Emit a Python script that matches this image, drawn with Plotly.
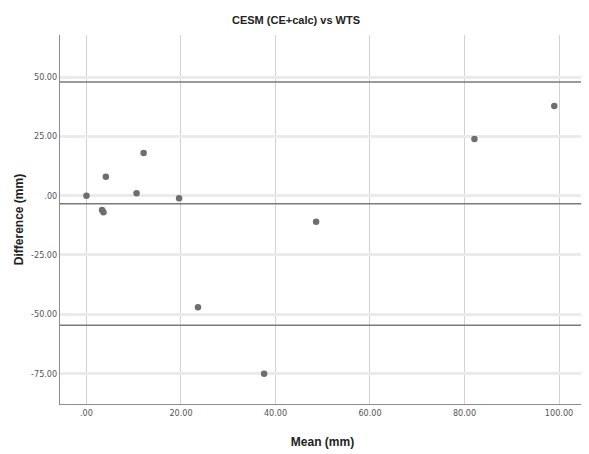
import plotly.graph_objects as go

mean_mm = [0.0, 3.3, 3.6, 4.1, 10.6, 12.1, 19.6, 23.6, 37.6, 48.6, 82.1, 99.0]
diff_mm = [0.0, -6.0, -7.0, 8.0, 1.0, 18.0, -1.1, -47.0, -75.0, -11.0, 23.9, 37.8]
ref_lines = [47.9, -3.4, -54.6]
x_ticks = [0, 20, 40, 60, 80, 100]
x_tick_labels = [".00", "20.00", "40.00", "60.00", "80.00", "100.00"]
y_ticks = [50, 25, 0, -25, -50, -75]
y_tick_labels = ["50.00", "25.00", ".00", "-25.00", "-50.00", "-75.00"]

tick_font = dict(family="Liberation Sans Narrow, DejaVu Sans Condensed, Arial", size=9, color="#555555")

fig = go.Figure()
fig.add_trace(go.Scatter(
    x=mean_mm, y=diff_mm, mode="markers",
    marker=dict(color="#6e6e6e", size=6.5),
    showlegend=False, hoverinfo="x+y",
))

for v in ref_lines:
    fig.add_shape(type="line", xref="paper", x0=0, x1=1, yref="y", y0=v, y1=v,
                  line=dict(color="#7a7a7a", width=1.5), layer="above")

fig.update_layout(
    width=589, height=454,
    margin=dict(l=52, r=12, t=27, b=58, autoexpand=False),
    paper_bgcolor="white", plot_bgcolor="white",
    title=dict(text="<b>CESM (CE+calc) vs WTS</b>", x=0.489, xanchor="center", y=0.974, yanchor="middle",
               automargin=False,
               font=dict(family="Liberation Sans Narrow, Liberation Sans, Arial", size=11, color="#222222")),
    xaxis=dict(range=[-5.6, 105.5], tickvals=x_ticks, ticktext=x_tick_labels, automargin=False,
               showgrid=True, gridcolor="#d2d2d2", gridwidth=1,
               zeroline=False, showline=True, linecolor="#8c8c8c", linewidth=1,
               ticks="", tickfont=tick_font,
               title=dict(text="<b>Mean (mm)</b>", standoff=20,
                          font=dict(family="Liberation Sans Narrow, Liberation Sans, Arial", size=12, color="#222222"))),
    yaxis=dict(range=[-87.8, 67.7], tickvals=y_ticks, ticktext=y_tick_labels, automargin=False,
               showgrid=True, gridcolor="#ebebeb", gridwidth=3,
               zeroline=False, showline=True, linecolor="#8c8c8c", linewidth=1,
               ticks="", tickfont=tick_font,
               title=dict(text="<b>Difference (mm)</b>", standoff=4,
                          font=dict(family="Liberation Sans, Arial", size=12, color="#222222"))),
)

fig.write_html("out.html")
